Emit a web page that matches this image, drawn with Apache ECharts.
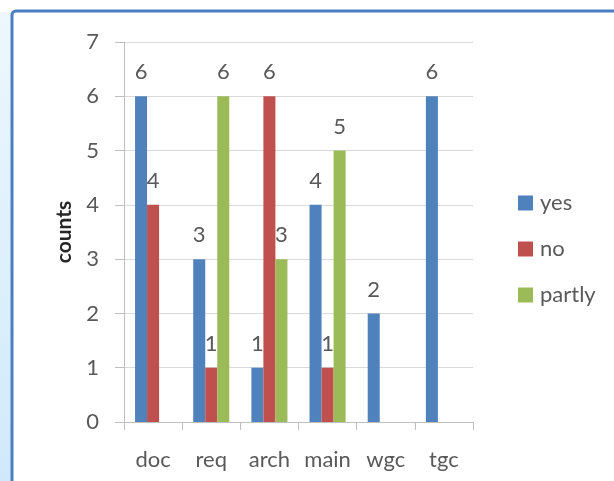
<!DOCTYPE html>
<html><head><meta charset="utf-8">
<script src="https://cdn.jsdelivr.net/npm/echarts@6/dist/echarts.min.js"></script>
<style>html,body{margin:0;padding:0;background:#fff}#c{width:614px;height:481px}</style>
</head><body><div id="c"></div>
<script>
var categories = ['doc','req','arch','main','wgc','tgc'];
var yesValues = [6,3,1,4,2,6];
var noValues = [4,1,6,1,null,null];
var partlyValues = [null,6,3,5,null,null];
var yTicks = [0,1,2,3,4,5,6,7];

var chart = echarts.init(document.getElementById('c'));
var font = 'Lato, "Open Sans", sans-serif';
var txt = '#595959';
function ser(name, data, color){
  return {name:name,type:'bar',data:data,barGap:'0%',barCategoryGap:'38%',
    itemStyle:{color:color},
    label:{show:true,position:'top',distance:13,color:txt,fontSize:22,fontFamily:font}};
}
chart.setOption({
  animation:false,
  graphic:[
    {type:'rect',shape:{x:0,y:12,width:12,height:481},style:{fill:{type:'linear',x:0,y:0,x2:0,y2:1,colorStops:[{offset:0,color:'#eef7fd'},{offset:1,color:'#cfe9fa'}]}},z:-10},
    {type:'rect',shape:{x:12,y:11,width:620,height:500,r:4},style:{fill:'#fff',stroke:'#4a7fc1',lineWidth:3},z:-9}
  ],
  grid:{left:124,right:141,top:42,bottom:59},
  legend:{orient:'vertical',left:513,top:187,itemWidth:15,itemHeight:15,itemGap:24,icon:'rect',
    textStyle:{color:txt,fontSize:22,fontFamily:font,padding:[0,0,0,2]},data:['yes','no','partly']},
  xAxis:{type:'category',data:categories,
    axisLine:{lineStyle:{color:'#bfbfbf'}},
    axisTick:{show:true,length:8,lineStyle:{color:'#bfbfbf'}},
    axisLabel:{color:txt,fontSize:22,fontFamily:font,margin:27,interval:0}},
  yAxis:{type:'value',min:0,max:7,interval:1,name:'counts',nameLocation:'middle',nameGap:49,
    nameTextStyle:{color:'#262626',fontSize:21,fontWeight:'bold',fontFamily:font},
    axisLine:{show:true,lineStyle:{color:'#bfbfbf'}},
    axisTick:{show:true,length:9,lineStyle:{color:'#bfbfbf'}},
    splitLine:{show:true,lineStyle:{color:'#d9d9d9'}},
    axisLabel:{color:txt,fontSize:22,fontFamily:font,margin:25}},
  series:[ser('yes',yesValues,'#4f81bd'),ser('no',noValues,'#c0504d'),ser('partly',partlyValues,'#9bbb59')]
});
</script></body></html>
